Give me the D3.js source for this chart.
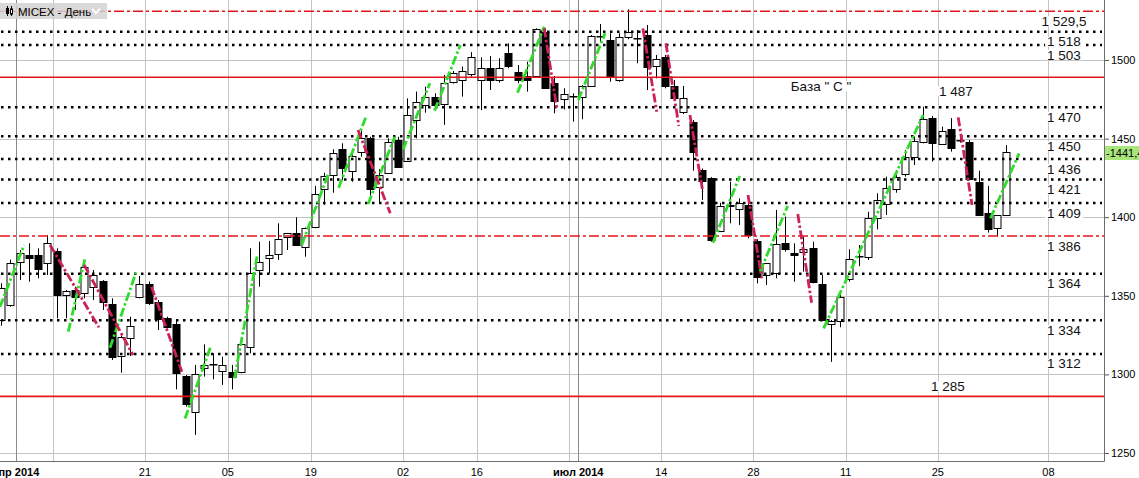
<!DOCTYPE html>
<html>
<head>
<meta charset="utf-8">
<script src="https://cdn.jsdelivr.net/npm/d3@7"></script>
<style>
  body { margin: 0; background: #fff; }
  svg { display: block; font-family: "Liberation Sans", Arial, sans-serif; }
</style>
</head>
<body>
<svg width="1139" height="478"></svg>
<script>
// trading day index of the first candle (0 = 07 apr 2014)
var firstDay = -6;

var openV = [1334.6,1344.1,1371.1,1375.9,1375.9,1370.6,
  1378.7,1350.5,1353.7,1351.6,1355.8,1359.4,1344.8,1311.3,1322.9,1349.0,
  1357.5,1346.3,1335.7,1332.1,1299.0,1276.3,1303.9,1306.6,1302.4,1301.7,
  1301.7,1317.2,1366.8,1373.8,1376.6,1387.2,1389.7,1380.8,1393.6,1417.7,
  1426.9,1443.2,1429.4,1441.3,1450.2,1419.4,1428.5,1449.1,1435.8,1461.8,
  1470.9,1476.3,1472.0,1485.6,1487.0,1491.5,1487.3,1494.7,1487.3,1504.2,
  1492.6,1489.8,1489.8,1518.0,1485.6,1475.0,1477.4,1476.7,1483.5,1515.1,
  1512.7,1486.9,1514.4,1513.8,1515.9,1495.8,1502.1,1483.5,1466.5,1460.5,
  1430.0,1424.7,1391.4,1407.5,1405.6,1407.8,1384.9,1362.8,1364.3,1383.8,
  1377.0,1377.7,1380.2,1357.5,1332.1,1333.6,1360.5,1374.9,1374.5,1399.3,
  1408.4,1418.4,1427.3,1438.1,1447.4,1462.9,1447.0,1455.9,1449.3,1448.1,
  1422.6,1402.9,1392.9,1401.4];
var highV = [1358.0,1373.0,1379.0,1383.4,1380.2,1388.7,
  1380.2,1353.7,1355.8,1370.6,1366.4,1360.0,1348.4,1325.0,1336.7,1362.6,
  1359.0,1347.3,1336.7,1335.2,1299.6,1306.0,1319.1,1313.4,1311.3,1306.0,
  1320.8,1380.2,1384.4,1384.9,1396.1,1390.0,1399.9,1393.5,1419.9,1428.3,
  1443.2,1447.0,1440.6,1455.5,1451.2,1430.5,1450.2,1451.2,1475.6,1479.9,
  1483.0,1478.8,1490.5,1493.0,1495.8,1505.0,1501.7,1502.5,1501.1,1510.6,
  1496.8,1498.9,1520.1,1520.1,1489.8,1482.0,1478.8,1484.0,1515.9,1522.9,
  1517.0,1517.0,1532.2,1519.1,1522.3,1503.2,1503.2,1487.3,1483.5,1461.8,
  1431.0,1425.5,1409.2,1422.6,1412.0,1409.0,1386.0,1370.7,1404.6,1400.4,
  1383.4,1387.6,1384.4,1363.2,1334.6,1351.6,1379.6,1382.3,1403.5,1415.2,
  1425.8,1430.0,1442.8,1451.3,1470.3,1464.4,1457.6,1463.0,1450.5,1449.1,
  1429.6,1419.9,1394.0,1445.9];
var lowV = [1331.0,1343.0,1360.0,1359.0,1361.1,1363.2,
  1335.7,1335.7,1341.0,1348.4,1347.3,1341.0,1309.2,1301.1,1311.7,1348.4,
  1344.1,1328.2,1329.3,1290.5,1279.5,1261.5,1298.6,1296.9,1293.3,1290.5,
  1300.7,1313.4,1355.8,1364.3,1372.8,1379.1,1381.7,1374.9,1393.0,1407.8,
  1415.6,1423.7,1422.6,1438.5,1411.0,1409.3,1427.9,1431.6,1435.4,1450.2,
  1466.5,1470.3,1458.7,1485.0,1476.7,1489.4,1468.2,1480.9,1485.6,1494.7,
  1485.2,1479.9,1489.4,1482.0,1466.1,1468.6,1460.8,1462.3,1483.0,1511.7,
  1486.2,1486.2,1513.2,1497.9,1480.9,1488.3,1482.0,1474.6,1465.6,1429.6,
  1411.0,1384.4,1390.5,1396.1,1395.0,1386.6,1357.9,1356.9,1361.1,1378.1,
  1359.0,1365.4,1357.9,1334.0,1308.0,1330.0,1359.0,1368.8,1372.8,1392.3,
  1401.4,1415.6,1425.8,1433.2,1447.0,1435.4,1446.5,1441.7,1447.5,1424.1,
  1400.8,1390.2,1387.6,1401.0];
var closeV = [1354.7,1370.6,1377.0,1373.8,1366.8,1383.4,
  1350.5,1353.0,1349.4,1368.1,1363.2,1345.8,1311.3,1323.6,1330.8,1357.5,
  1345.6,1335.7,1329.9,1301.1,1281.0,1300.3,1306.0,1306.8,1306.0,1298.6,
  1319.3,1364.3,1371.7,1375.7,1385.9,1389.7,1382.3,1392.9,1414.8,1426.2,
  1440.6,1431.1,1439.1,1450.2,1417.7,1426.9,1448.1,1432.2,1465.0,1473.5,
  1476.3,1470.9,1485.6,1491.5,1493.0,1502.1,1494.7,1487.3,1494.7,1495.8,
  1487.3,1487.3,1519.5,1482.6,1473.9,1478.2,1477.3,1483.5,1515.3,1515.3,
  1489.8,1514.4,1517.6,1513.9,1495.4,1500.4,1483.5,1476.1,1475.6,1441.1,
  1423.2,1385.1,1407.1,1408.0,1409.2,1388.7,1362.2,1370.7,1383.0,1380.2,
  1375.8,1379.6,1358.4,1334.6,1334.2,1349.0,1373.2,1375.1,1399.3,1410.9,
  1418.4,1425.8,1438.1,1448.5,1462.3,1447.0,1455.1,1443.8,1449.0,1424.7,
  1401.4,1392.9,1401.4,1441.4];

var lastPrice = 1441.4;

// support / resistance levels
var dotLevels = [1518, 1509.5, 1470, 1451.5, 1437, 1424, 1409, 1364, 1334.5, 1313];
var dashLevels = [1531, 1388];
var solidLevels = [1489, 1286];

var levelText = ["1 529,5", "1 518", "1 503", "1 470", "1 450", "1 436", "1 421",
                 "1 409", "1 386", "1 364", "1 334", "1 312"];
var levelOf = [1531, 1518, 1509.5, 1470, 1451.5, 1437, 1424, 1409, 1388, 1364, 1334.5, 1313];

var priceTicks = [1250, 1300, 1350, 1400, 1450, 1500];

var dayTicks = [-4, 0, 10, 19, 28, 38, 46, 56, 57, 66, 76, 86, 96, 108];
var dayLabels = ["апр 2014", "", "21", "05", "19", "02", "16", "", "июл 2014", "14", "28", "11", "25", "08"];
var monthTicks = [-4, 57];

// hand drawn trend strokes: [day1, price1, day2, price2]
var upStrokes = [
  [-6.13,1343,-3.52,1382.3],[1.28,1327.2,3.07,1373.2],[5.8,1317,8.62,1364.7],
  [13.94,1272,16.72,1317.6],[19.3,1297.5,21.75,1375],[26.6,1382.3,29.5,1427.9],
  [30.6,1418.8,33.6,1464.4],[33.8,1408.4,36.7,1451.2],[37.6,1443.2,40.5,1485.2],
  [41,1467.8,43.8,1509.5],[50,1479.2,52.9,1521.2],[56.6,1474.6,59.5,1517],
  [71.2,1383.8,74.1,1426.2],[76.3,1365.4,79.3,1407.1],[83.2,1329.3,94.0,1465],
  [101.3,1399.3,104.4,1440.6]];
var downStrokes = [
  [-0.7,1382.3,4.6,1329.9],[3,1369.6,8.3,1312.3],[10.3,1355.8,13.6,1301.7],
  [32.7,1455.5,36.2,1402.5],[52.9,1520.1,54.3,1468.2],[63.6,1520.1,65.1,1467.1],
  [66.1,1510.6,67.5,1458],[68.7,1465,70.1,1416.2],[75,1414.1,76.5,1361.1],
  [80.4,1402,81.9,1345.6],[97.8,1463.5,99.3,1407.8]];

var svg = d3.select("svg");
var W = 1104, H = 461;

var x = d3.scaleLinear().domain([0, 100]).range([56.5, 978.5]);
var y = d3.scaleLinear().domain([1250, 1500]).range([453, 60]);
var slot = function(d) { return Math.round(x(d) - 3.8) + 0.5; };

var candles = openV.map(function(o, k) {
  return {i: firstDay + k, o: o, h: highV[k], l: lowV[k], c: closeV[k]};
});

// grid
var grid = svg.append("g");
grid.selectAll(".hg")
  .data(priceTicks)
  .enter().append("line")
    .attr("x1", 0).attr("x2", W)
    .attr("y1", function(d) { return Math.round(y(d)) + 0.5; })
    .attr("y2", function(d) { return Math.round(y(d)) + 0.5; })
    .attr("stroke", "#c4c4c4");
grid.selectAll(".vg")
  .data(dayTicks)
  .enter().append("line")
    .attr("x1", slot).attr("x2", slot)
    .attr("y1", 0).attr("y2", H)
    .attr("stroke", function(d) { return monthTicks.indexOf(d) >= 0 ? "#8a8a8a" : "#c4c4c4"; });

// candles
var cg = svg.append("g");
cg.selectAll(".wick")
  .data(candles)
  .enter().append("line")
    .attr("x1", function(d) { return Math.round(x(d.i)) + 0.5; })
    .attr("x2", function(d) { return Math.round(x(d.i)) + 0.5; })
    .attr("y1", function(d) { return y(d.h); })
    .attr("y2", function(d) { return y(d.l); })
    .attr("stroke", "#000");
cg.selectAll(".body")
  .data(candles)
  .enter().append("rect")
    .attr("x", function(d) { return Math.round(x(d.i)) - 3; })
    .attr("width", 7)
    .attr("y", function(d) { return Math.round(y(Math.max(d.o, d.c))) + 0.5; })
    .attr("height", function(d) { return Math.max(0.5, Math.round(Math.abs(y(d.o) - y(d.c)))); })
    .attr("fill", function(d) { return d.c >= d.o ? "#fff" : "#000"; })
    .attr("stroke", "#000");

// levels
var lv = svg.append("g");
lv.selectAll(".dot")
  .data(dotLevels)
  .enter().append("line")
    .attr("x1", 1).attr("x2", W - 2)
    .attr("y1", function(d) { return y(d); })
    .attr("y2", function(d) { return y(d); })
    .attr("stroke", "#000")
    .attr("stroke-width", 2.5)
    .attr("stroke-dasharray", "2.5,4.5");
lv.selectAll(".dash")
  .data(dashLevels)
  .enter().append("line")
    .attr("x1", 0).attr("x2", W)
    .attr("y1", function(d) { return y(d); })
    .attr("y2", function(d) { return y(d); })
    .attr("stroke", "#e8141c")
    .attr("stroke-width", 1.6)
    .attr("stroke-dasharray", "10,3,3,3");
lv.selectAll(".solid")
  .data(solidLevels)
  .enter().append("line")
    .attr("x1", 0).attr("x2", W)
    .attr("y1", function(d) { return y(d); })
    .attr("y2", function(d) { return y(d); })
    .attr("stroke", "#e8141c")
    .attr("stroke-width", 1.6);

// trend strokes
function strokes(data, color) {
  svg.append("g").selectAll("line")
    .data(data)
    .enter().append("line")
      .attr("x1", function(d) { return x(d[0]); })
      .attr("y1", function(d) { return y(d[1]); })
      .attr("x2", function(d) { return x(d[2]); })
      .attr("y2", function(d) { return y(d[3]); })
      .attr("stroke", color)
      .attr("stroke-width", 2.8)
      .attr("stroke-dasharray", "9,2.5,2.5,2.5");
}
strokes(upStrokes, "#2fdc2a");
strokes(downStrokes, "#cc2256");

// text with white box behind
function boxed(g, tx, cx, cy, size) {
  var t = g.append("text")
    .attr("x", cx).attr("y", cy)
    .attr("text-anchor", "middle")
    .attr("dominant-baseline", "central")
    .attr("font-size", size)
    .attr("fill", "#111")
    .text(tx);
  var b = t.node().getBBox();
  g.insert("rect", "text")
    .attr("x", b.x - 2).attr("y", b.y + 2.5)
    .attr("width", b.width + 4).attr("height", b.height - 5)
    .attr("fill", "#fff");
}

var lab = svg.append("g");
levelText.forEach(function(s, k) {
  var gg = lab.append("g");
  boxed(gg, s, 1064, y(levelOf[k]) + 10, 13.5);
});
boxed(lab.append("g"), "1 285", 948, y(solidLevels[1]) - 10, 13.5);
boxed(lab.append("g"), "1 487", 956, y(solidLevels[0]) + 14, 13.5);
boxed(lab.append("g"), "База \" С \"", 821, y(solidLevels[0]) + 9, 13.5);

// right price axis
var ax = svg.append("g")
  .attr("transform", "translate(" + W + ",0)")
  .call(d3.axisRight(y).tickValues(priceTicks).tickSize(5).tickPadding(2).tickFormat(d3.format("d")));
ax.select(".domain").remove();
ax.selectAll(".tick line").attr("stroke", "#555");
ax.selectAll(".tick text")
  .attr("font-family", "'Liberation Sans Narrow', 'Liberation Sans', Arial, sans-serif")
  .attr("font-size", 11).attr("fill", "#000");

svg.append("line")
  .attr("x1", W + 0.5).attr("x2", W + 0.5).attr("y1", 0).attr("y2", H + 0.5)
  .attr("stroke", "#6e6e6e");
svg.append("line")
  .attr("x1", 0).attr("x2", W + 0.5).attr("y1", H + 0.5).attr("y2", H + 0.5)
  .attr("stroke", "#6e6e6e");

// last price marker
svg.append("rect")
  .attr("x", W + 1).attr("y", Math.round(y(lastPrice)) - 6)
  .attr("width", 40).attr("height", 14)
  .attr("fill", "#a8e67c");
svg.append("text")
  .attr("x", W + 2).attr("y", y(lastPrice) + 1)
  .attr("dominant-baseline", "central")
  .attr("font-family", "'Liberation Sans Narrow', 'Liberation Sans', Arial, sans-serif")
  .attr("font-size", 11)
  .text("-" + d3.format(".1f")(lastPrice).replace(".", ","));

// date labels
svg.append("g").selectAll("text")
  .data(dayTicks)
  .enter().append("text")
    .attr("x", function(d) { return x(d) - 3.8; })
    .attr("y", 476)
    .attr("text-anchor", "middle")
    .attr("font-family", "'Liberation Sans Narrow', 'Liberation Sans', Arial, sans-serif")
    .attr("font-size", 11)
    .attr("font-weight", function(d) { return monthTicks.indexOf(d) >= 0 ? "bold" : "normal"; })
    .text(function(d, k) { return dayLabels[k]; });

// title tab
var tt = svg.append("g");
tt.append("rect")
  .attr("x", 0).attr("y", 3).attr("width", 107).attr("height", 16)
  .attr("fill", "#d2d2d2").attr("opacity", 0.85);
tt.append("line").attr("x1", 7.5).attr("x2", 7.5).attr("y1", 6).attr("y2", 16).attr("stroke", "#000");
tt.append("rect").attr("x", 6).attr("y", 8).attr("width", 3).attr("height", 6).attr("fill", "#000");
tt.append("line").attr("x1", 11.5).attr("x2", 11.5).attr("y1", 6).attr("y2", 16).attr("stroke", "#000");
tt.append("rect").attr("x", 10.5).attr("y", 9).attr("width", 2).attr("height", 5).attr("fill", "#fff").attr("stroke", "#000");
tt.append("text")
  .attr("x", 18).attr("y", 15.5)
  .attr("font-size", 11.5)
  .attr("fill", "#000")
  .text("MICEX - День");
tt.append("path")
  .attr("d", "M92,9 L96,13 L100,9")
  .attr("fill", "none").attr("stroke", "#fff").attr("stroke-width", 2);
</script>
</body>
</html>
